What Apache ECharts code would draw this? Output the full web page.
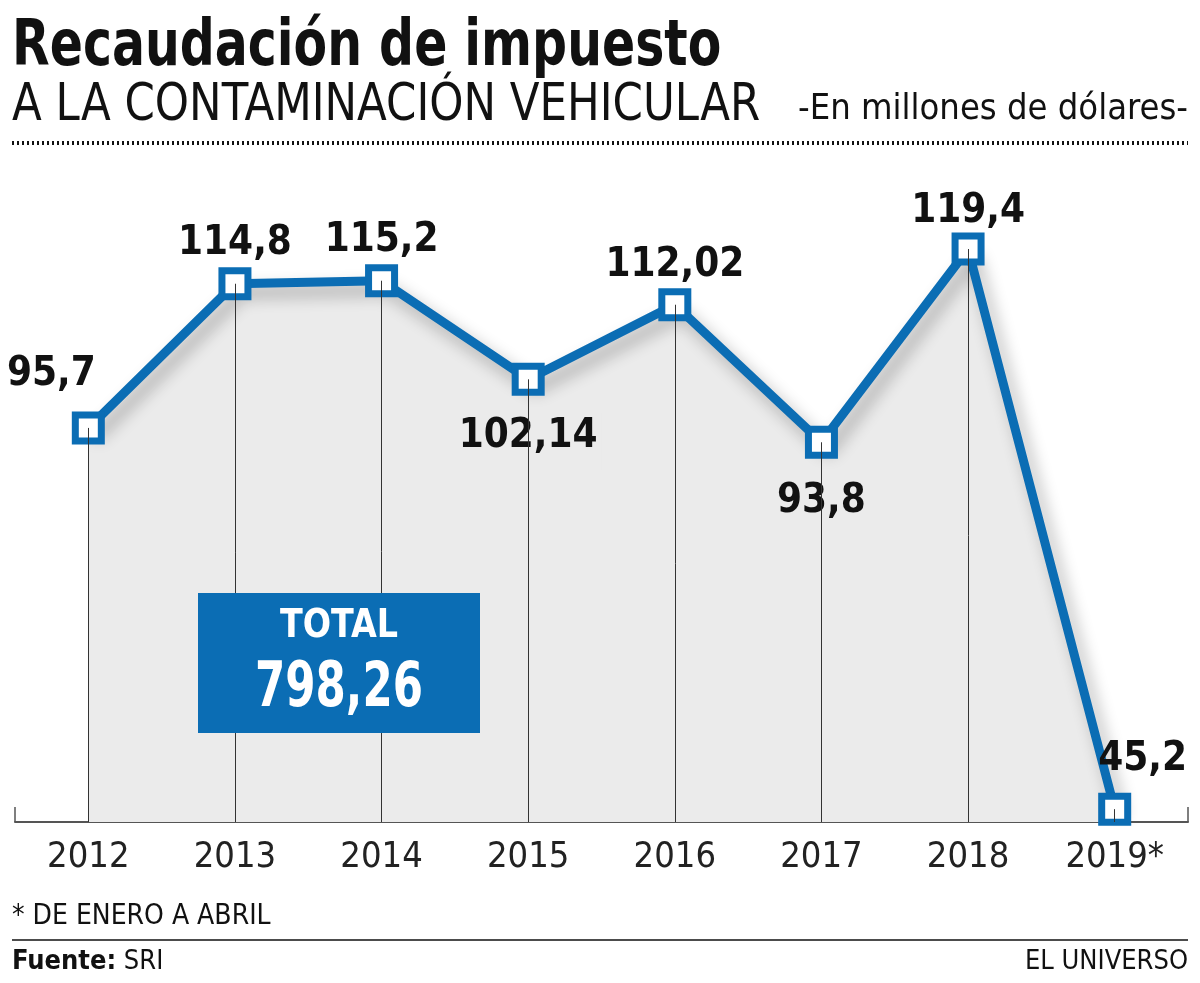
<!DOCTYPE html>
<html><head><meta charset="utf-8">
<script src="https://cdn.jsdelivr.net/npm/echarts@6/dist/echarts.min.js"></script>
<style>html,body{margin:0;padding:0;background:#fff}#c{width:1200px;height:983px}</style>
</head><body><div id="c"></div>
<script>
const years = ['2012','2013','2014','2015','2016','2017','2018','2019*'];
const values = [95.7, 114.8, 115.2, 102.14, 112.02, 93.8, 119.4, 45.2];
const valueLabels = ['95,7','114,8','115,2','102,14','112,02','93,8','119,4','45,2'];
const titleText = 'Recaudación de impuesto';
const subtitleText = 'A LA CONTAMINACIÓN VEHICULAR';
const unitText = '-En millones de dólares-';
const footnote = '* DE ENERO A ABRIL';
const source = 'SRI';
const brand = 'EL UNIVERSO';

const NARROW = "'DejaVu Sans Condensed','Liberation Sans Narrow',sans-serif";
const BLUE = '#0b6db4';
const FILL = '#ebebeb';
const yMin = 43.5, yMax = 130;
const total = values.reduce((a,b)=>a+b,0).toFixed(2).replace('.',',');

// label placement (style only)
const place = [
  {position:'top', offset:[-37,-12]},
  {position:'top', offset:[0,1]},
  {position:'top', offset:[0,1]},
  {position:'bottom', offset:[0,12], below:true},
  {position:'top', offset:[0,2]},
  {position:'bottom', offset:[0,14], below:true},
  {position:'top', offset:[0,4]},
  {position:'top', offset:[28,-8]}
];

const mainData = values.map((v,i)=>({
  value: v,
  label: Object.assign({
    show:true, formatter: valueLabels[i], position: place[i].position, offset: place[i].offset,
    color:'#111', fontFamily: NARROW, fontWeight:'bold', fontSize:40
  }, place[i].below ? {backgroundColor: FILL, padding:[4,4,14,4]} : {})
}));

const chart = echarts.init(document.getElementById('c'), null, {renderer:'canvas'});
chart.setOption({
  backgroundColor:'#fff',
  animation:false,
  grid:{left:15, right:12, top:169, bottom:161},
  xAxis:{
    type:'category', data: years, boundaryGap:true,
    axisLine:{lineStyle:{color:'#555', width:2}},
    axisTick:{show:true, inside:true, length:15, lineStyle:{color:'#555', width:1.5}},
    axisLabel:{color:'#222', fontFamily:NARROW, fontSize:36, margin:18}
  },
  yAxis:{type:'value', min:yMin, max:yMax, show:false, splitLine:{show:false}},
  series:[
    {type:'line', data: values, symbol:'none', z:1, lineStyle:{opacity:0}, areaStyle:{color:FILL, opacity:1}, silent:true},
    {type:'line', data: values, symbol:'none', z:2, lineStyle:{opacity:0}, silent:true,
      markLine:{symbol:'none', silent:true, label:{show:false},
        lineStyle:{color:'#333', width:1, type:'solid'},
        data: values.map((v,i)=>[{coord:[i, v]},{coord:[i, yMin]}])}},
    {type:'line', data: mainData, z:3, symbol:'rect', symbolSize:26,
      lineStyle:{color:BLUE, width:9, shadowColor:'rgba(0,0,0,0.3)', shadowBlur:16, shadowOffsetX:7, shadowOffsetY:9},
      itemStyle:{color:'#fff', borderColor:BLUE, borderWidth:7}}
  ],
  graphic:[
    {type:'text', x:12, y:16, scaleX:0.85, style:{text:titleText, x:0, y:0, verticalAlign:'top', fontFamily:NARROW, fontWeight:'bold', fontSize:64, fill:'#111'}},
    {type:'text', x:12, y:80, scaleX:0.93, style:{text:subtitleText, x:0, y:0, verticalAlign:'top', fontFamily:NARROW, fontWeight:'normal', fontSize:52, fill:'#111'}},
    {type:'text', x:1188, y:92, style:{text:unitText, x:0, y:0, align:'right', verticalAlign:'top', fontFamily:NARROW, fontSize:36, fill:'#111'}},
    {type:'line', shape:{x1:12, y1:143, x2:1188, y2:143}, style:{stroke:'#111', lineWidth:4, lineDash:[2,3]}},
    {type:'rect', z:100, shape:{x:198, y:593, width:282, height:140}, style:{fill:BLUE}},
    {type:'text', z:101, x:339, y:627, scaleX:0.95, style:{text:'TOTAL', x:0, y:0, fontFamily:NARROW, fontWeight:'bold', fontSize:39, fill:'#fff', align:'center', verticalAlign:'middle'}},
    {type:'text', z:101, x:339, y:690, scaleX:0.78, style:{text:total, x:0, y:0, fontFamily:NARROW, fontWeight:'bold', fontSize:62, fill:'#fff', align:'center', verticalAlign:'middle'}},
    {type:'text', x:12, y:903, style:{text:footnote, x:0, y:0, verticalAlign:'top', fontFamily:NARROW, fontSize:28, fill:'#111'}},
    {type:'line', shape:{x1:12, y1:940, x2:1188, y2:940}, style:{stroke:'#111', lineWidth:1.5}},
    {type:'text', x:12, y:948, style:{text:'{b|Fuente:} ' + source, x:0, y:0, verticalAlign:'top', fontFamily:NARROW, fontSize:27, fill:'#111', rich:{b:{fontFamily:NARROW, fontWeight:'bold', fontSize:27, fill:'#111'}}}},
    {type:'text', x:1188, y:948, style:{text:brand, x:0, y:0, align:'right', verticalAlign:'top', fontFamily:NARROW, fontSize:27, fill:'#111'}}
  ]
});
</script></body></html>
